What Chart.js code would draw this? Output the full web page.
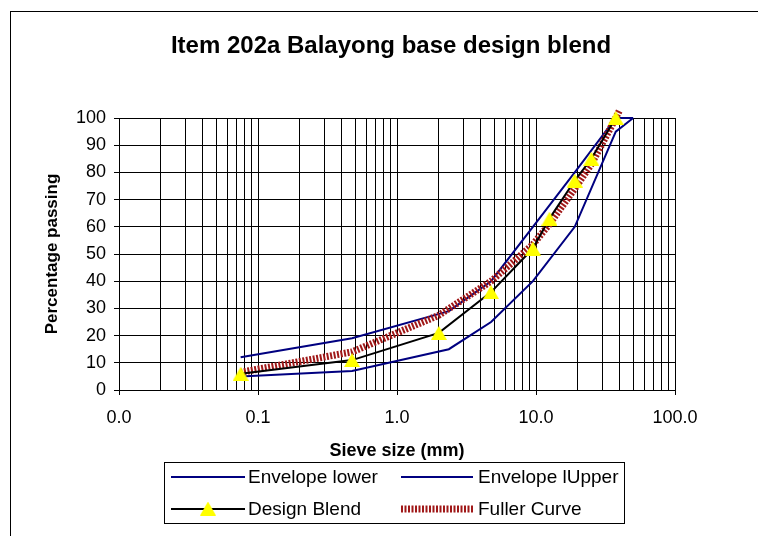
<!DOCTYPE html>
<html><head><meta charset="utf-8">
<script src="https://cdn.jsdelivr.net/npm/chart.js@4.4.1/dist/chart.umd.min.js"></script>
<style>html,body{margin:0;padding:0;background:#fff;overflow:hidden}canvas{display:block}</style>
</head><body>
<canvas id="c" width="758" height="536"></canvas>
<script>
// ---- data ----
const titleText = 'Item 202a Balayong base design blend';
const xTitle = 'Sieve size (mm)';
const yTitle = 'Percentage passing';
const xTickValues = [0.01, 0.1, 1, 10, 100];
const xTickLabels = ['0.0', '0.1', '1.0', '10.0', '100.0'];
const seriesNames = ['Envelope lower', 'Envelope lUpper', 'Design Blend', 'Fuller Curve'];

const lowerSieve = [0.075, 0.475, 2.36, 4.75, 9.5, 19, 37.5, 50];
const lowerPass  = [5, 7, 15, 25, 40, 60, 95, 100];
const upperSieve = [0.075, 0.475, 2.36, 4.75, 9.5, 19, 37.5, 50];
const upperPass  = [12, 19, 29, 40, 60, 80, 100, 100];
const blendSieve = [0.075, 0.475, 2.0, 4.75, 9.5, 12.5, 19, 25, 37.5];
const blendPass  = [6, 11, 21, 36, 52, 63, 77, 85, 100];
const fullerSieve = [0.075, 0.475, 2.0, 4.75, 9.5, 12.5, 19, 25, 37.5, 40];
const fullerPass  = [6.5, 14, 27.5, 40, 53.5, 61, 74, 83, 100, 103];

const pts = (xs, ys) => xs.map((x, i) => ({x: x, y: ys[i]}));

// triangle marker image (centered on the data point like the original)
const tri = document.createElement('canvas');
tri.width = 16; tri.height = 14;
(function(){ const t = tri.getContext('2d'); t.fillStyle = '#FFFF00';
  t.beginPath(); t.moveTo(8, 0); t.lineTo(16, 14); t.lineTo(0, 14); t.closePath(); t.fill(); })();

const FONT = "'Liberation Sans', Arial, Helvetica, sans-serif";
Chart.defaults.font.family = FONT;
Chart.defaults.color = '#000';

const NAVY = '#000080';
const FULLER = '#A01818';

const bgPlugin = {
  id: 'bg',
  beforeDraw(chart) {
    const c = chart.ctx;
    c.save();
    c.fillStyle = '#fff';
    c.fillRect(0, 0, chart.width, chart.height);
    c.strokeStyle = '#000'; c.lineWidth = 1;
    c.strokeRect(10.5, 11.5, 800, 600);
    c.restore();
  },
  afterDraw(chart) {
    const c = chart.ctx;
    c.save();
    // title
    c.fillStyle = '#000';
    c.font = 'bold 24px ' + FONT;
    c.textAlign = 'center'; c.textBaseline = 'alphabetic';
    c.fillText(titleText, 391, 53);
    // legend box
    c.strokeStyle = '#000'; c.lineWidth = 1;
    c.strokeRect(164.5, 462.5, 460, 61);
    const ds = chart.data.datasets;
    const order = [0, 1, 2, 3]; // lower, upper, blend, fuller (by legendIndex)
    const items = ds.slice().sort((a, b) => a.legendIndex - b.legendIndex);
    const cols = [[171, 245, 248], [401, 473, 478]];
    const rows = [476.5, 508.5];
    c.font = '19px ' + FONT;
    c.textAlign = 'left'; c.textBaseline = 'middle';
    items.forEach((d, i) => {
      const col = cols[i % 2], y = rows[Math.floor(i / 2)];
      c.save();
      c.strokeStyle = d.borderColor; c.lineWidth = d.borderWidth;
      c.setLineDash(d.borderDash || []);
      c.beginPath(); c.moveTo(col[0], Math.round(y)); c.lineTo(col[1], Math.round(y)); c.stroke();
      c.restore();
      if (d.pointRadius > 0) {
        c.drawImage(tri, (col[0] + col[1]) / 2 - 8, y - 7);
      }
      c.fillStyle = '#000';
      c.fillText(d.label, col[2], y + 1);
    });
    c.restore();
  }
};

const isDecade = v => Math.abs(Math.log10(v) - Math.round(Math.log10(v))) < 1e-6;

new Chart(document.getElementById('c'), {
  type: 'line',
  data: {
    datasets: [
      { label: seriesNames[2], legendIndex: 2, data: pts(blendSieve, blendPass), borderColor: '#000', borderWidth: 2,
        pointStyle: tri, pointRadius: 8, pointHoverRadius: 8, order: 0, clip: false, tension: 0 },
      { label: seriesNames[3], legendIndex: 3, data: pts(fullerSieve, fullerPass), borderColor: FULLER, borderWidth: 7,
        borderDash: [2, 1.5], borderCapStyle: 'butt', pointRadius: 0, order: 1, clip: false, tension: 0 },
      { label: seriesNames[1], legendIndex: 1, data: pts(upperSieve, upperPass), borderColor: NAVY, borderWidth: 2,
        pointRadius: 0, order: 2, clip: false, tension: 0 },
      { label: seriesNames[0], legendIndex: 0, data: pts(lowerSieve, lowerPass), borderColor: NAVY, borderWidth: 2,
        pointRadius: 0, order: 3, clip: false, tension: 0 }
    ]
  },
  options: {
    responsive: false,
    animation: false,
    parsing: true,
    layout: { padding: { left: 0, top: 118, right: 83, bottom: 0 } },
    plugins: { legend: { display: false }, title: { display: false }, tooltip: { enabled: false } },
    scales: {
      x: {
        type: 'logarithmic', min: 0.01, max: 100,
        afterFit(s) { s.height = 146; },
        afterBuildTicks(s) {
          s.ticks = s.ticks.filter(t => {
            const m = t.value / Math.pow(10, Math.floor(Math.log10(t.value) + 1e-9));
            return Math.abs(m - Math.round(m)) < 1e-6;
          });
        },
        ticks: {
          autoSkip: false, maxRotation: 0, minRotation: 0, padding: 12,
          font: { size: 18 },
          callback(v) {
            const i = xTickValues.findIndex(t => Math.abs(t - v) / t < 1e-6);
            return i >= 0 ? xTickLabels[i] : '';
          }
        },
        grid: {
          color: '#000', lineWidth: 1, tickLength: 5,
          tickColor: ctx => (ctx.tick && isDecade(ctx.tick.value)) ? '#000' : 'rgba(0,0,0,0)'
        },
        border: { color: '#000', width: 1 },
        title: { display: true, text: xTitle, font: { size: 18, weight: 'bold' }, padding: { top: 0, bottom: 74 } }
      },
      y: {
        min: 0, max: 100,
        afterFit(s) { s.width = 119; },
        ticks: { stepSize: 10, padding: 8, font: { size: 18 } },
        grid: { color: '#000', lineWidth: 1, tickLength: 5, tickColor: '#000' },
        border: { color: '#000', width: 1 },
        title: { display: true, text: yTitle, font: { size: 17, weight: 'bold' }, padding: { top: 42, bottom: 0 } }
      }
    }
  },
  plugins: [bgPlugin]
});
</script>
</body></html>
